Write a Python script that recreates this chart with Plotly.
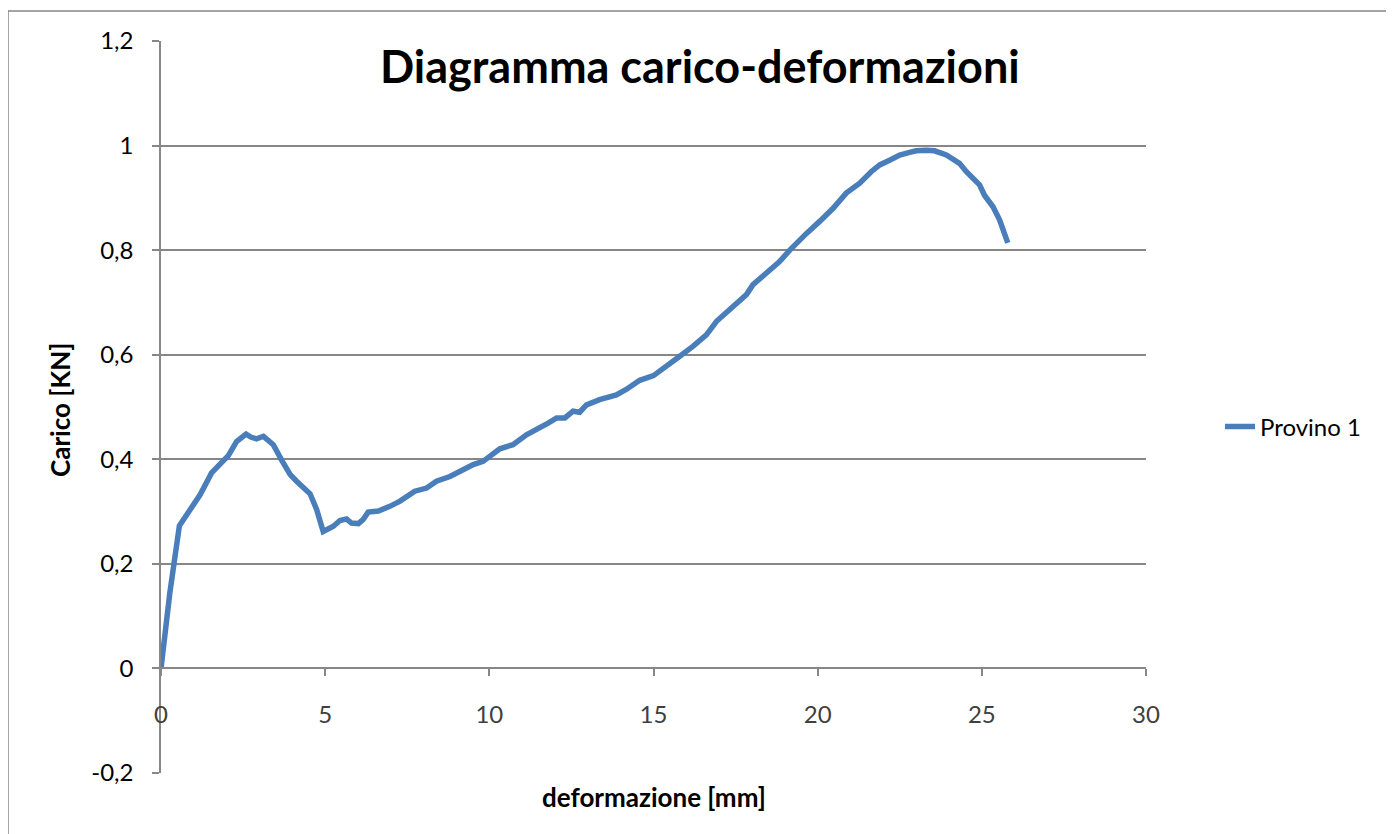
import plotly.graph_objects as go

# deformation [mm]
deformazione = [0.0, 0.27, 0.56, 0.88, 1.19, 1.54, 1.85, 2.05, 2.30, 2.59, 2.75, 2.91, 3.12, 3.42, 3.67,
                3.93, 4.13, 4.54, 4.74, 4.94, 5.25, 5.45, 5.65, 5.80, 6.01, 6.16, 6.31, 6.62, 6.97,
                7.28, 7.73, 8.09, 8.39, 8.80, 9.20, 9.51, 9.81, 10.12, 10.32, 10.72, 11.13, 11.79,
                12.05, 12.30, 12.55, 12.75, 12.96, 13.36, 13.87, 14.18, 14.58, 15.00, 15.39, 15.80,
                16.20, 16.61, 16.92, 17.22, 17.53, 17.83, 18.03, 18.44, 18.84, 19.15, 19.45, 19.66,
                20.06, 20.47, 20.87, 21.28, 21.63, 21.89, 22.19, 22.50, 22.80, 23.00, 23.31, 23.56,
                23.92, 24.32, 24.53, 24.93, 25.08, 25.34, 25.54, 25.79]
# load [KN]
carico = [0.0, 0.145, 0.273, 0.304, 0.332, 0.374, 0.396, 0.407, 0.434, 0.448, 0.442, 0.439, 0.444, 0.428, 0.399,
          0.371, 0.358, 0.334, 0.304, 0.262, 0.272, 0.283, 0.286, 0.278, 0.277, 0.285, 0.299, 0.301, 0.310,
          0.320, 0.339, 0.345, 0.358, 0.367, 0.380, 0.390, 0.396, 0.409, 0.420, 0.428, 0.447, 0.469,
          0.479, 0.479, 0.492, 0.490, 0.504, 0.514, 0.523, 0.534, 0.551, 0.560, 0.577, 0.597,
          0.616, 0.638, 0.664, 0.680, 0.699, 0.715, 0.734, 0.756, 0.778, 0.800, 0.820, 0.832,
          0.855, 0.880, 0.909, 0.928, 0.950, 0.963, 0.972, 0.982, 0.987, 0.990, 0.991, 0.990,
          0.982, 0.966, 0.950, 0.925, 0.905, 0.883, 0.858, 0.814]

x_ticks = [0, 5, 10, 15, 20, 25, 30]
y_ticks = [-0.2, 0, 0.2, 0.4, 0.6, 0.8, 1.0, 1.2]
y_tick_labels = ["-0,2", "0", "0,2", "0,4", "0,6", "0,8", "1", "1,2"]

FONT = "Lato"
GRID = "#878787"

fig = go.Figure()
fig.add_trace(go.Scatter(
    x=deformazione, y=carico, mode="lines", name="Provino 1",
    line=dict(color="#4A7EBB", width=5.5),
))

fig.update_layout(
    width=1394, height=834,
    margin=dict(l=153, r=256, t=33, b=69),
    paper_bgcolor="white", plot_bgcolor="white",
    font=dict(family=FONT, size=18, color="black"),
    showlegend=True,
    legend=dict(x=(1220 - 161) / 985, y=(773 - 427) / 732, xanchor="left", yanchor="middle",
                font=dict(family=FONT, size=24, color="black"),
                bgcolor="rgba(0,0,0,0)"),
    xaxis=dict(range=[0, 30], tickvals=x_ticks, ticktext=[str(v) for v in x_ticks],
               showgrid=False, zeroline=False, showline=True, linecolor=GRID, linewidth=1.5,
               ticks="outside", ticklen=7, tickcolor=GRID, tickwidth=1.5,
               anchor="free", position=(0 - (-0.2)) / 1.4,
               tickfont=dict(family=FONT, size=24, color="#404040"),
               ticklabelstandoff=18),
    yaxis=dict(range=[-0.2, 1.2], tickvals=y_ticks, ticktext=y_tick_labels,
               showgrid=True, gridcolor=GRID, gridwidth=1.5, zeroline=False,
               showline=True, linecolor=GRID, linewidth=1.5,
               ticks="outside", ticklen=7, tickcolor=GRID, tickwidth=1.5,
               tickfont=dict(family=FONT, size=24, color="black"),
               ticklabelstandoff=14),
)

# outer chart border
fig.add_shape(type="rect", xref="paper", yref="paper",
              x0=(8 - 161) / 985, x1=(1388 - 161) / 985,
              y0=(773 - 840) / 732, y1=(773 - 11) / 732,
              line=dict(color=GRID, width=1.5), fillcolor="rgba(0,0,0,0)", layer="below")

fig.add_annotation(text="<b>Diagramma carico-deformazioni</b>", xref="paper", yref="paper",
                   x=(700 - 161) / 985, y=(773 - 66) / 732, xanchor="center", yanchor="middle",
                   showarrow=False, font=dict(family=FONT, size=45, color="black"))
fig.add_annotation(text="<b>deformazione [mm]</b>", xref="paper", yref="paper",
                   x=(654 - 161) / 985, y=(773 - 797) / 732, xanchor="center", yanchor="middle",
                   showarrow=False, font=dict(family=FONT, size=26, color="black"))
fig.add_annotation(text="<b>Carico [KN]</b>", xref="paper", yref="paper",
                   x=(60 - 161) / 985, y=(773 - 410) / 732, xanchor="center", yanchor="middle",
                   textangle=-90, showarrow=False, font=dict(family=FONT, size=26, color="black"))

fig.write_html("out.html")
